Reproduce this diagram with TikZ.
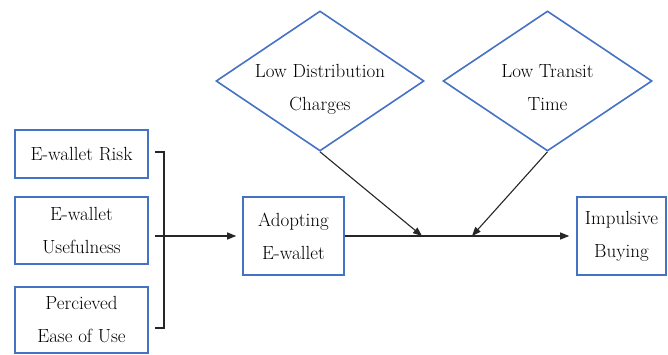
\documentclass[tikz,border=0pt]{standalone}
\usepackage{fontspec}
\usetikzlibrary{arrows.meta,shapes.geometric}
\definecolor{boxblue}{RGB}{68,114,196}
\begin{document}
\begin{tikzpicture}[x=1pt,y=-1pt,
  txt/.style={font=\fontsize{19}{33}\selectfont, align=center, inner sep=0pt},
  box/.style={draw=boxblue, line width=1.6pt, rectangle, txt},
  dia/.style={draw=boxblue, line width=1.6pt, diamond, inner sep=0pt},
  arr/.style={draw=black!85, line width=1.1pt, -{Triangle[length=9pt,width=7pt]}},
  plain/.style={draw=black!85, line width=1.1pt}]
\useasboundingbox (0,0) rectangle (668,355);
% left boxes
\node[box, minimum width=133pt, minimum height=48pt] (risk) at (81.5,154) {E-wallet Risk};
\node[box, minimum width=133pt, minimum height=67pt] (use) at (81.5,230.5) {E-wallet\\Usefulness};
\node[box, minimum width=133pt, minimum height=66pt] (ease) at (81.5,320) {Percieved\\Ease of Use};
% middle/right boxes
\node[box, minimum width=101pt, minimum height=78pt] (adopt) at (293.5,236) {Adopting\\E-wallet};
\node[box, minimum width=89pt, minimum height=78pt] (imp) at (621.5,236) {Impulsive\\Buying};
% diamonds
\node[dia, minimum width=208pt, minimum height=140pt] (d1) at (320,81) {};
\node[txt] (t1) at (320,89) {Low Distribution\\Charges};
\node[dia, minimum width=209pt, minimum height=140pt] (d2) at (547.5,81) {};
\node[txt] (t2) at (547.5,88) {Low Transit\\Time};
% bracket
\coordinate (bt) at (155,152);
\coordinate (bb) at (155,328);
\coordinate (bm) at (155,236);
\draw[plain] (bt) -- ++(9,0) -- ++(0,176) -- (bb);
\draw[arr, shorten >=6pt] (bm) -- (adopt.west);
% main line
\draw[arr, shorten >=7pt] (adopt.east) -- (imp.west);
% moderators
\coordinate (m1) at (422,236);
\coordinate (m2) at (472,236);
\draw[arr] (d1.south) -- (m1);
\draw[arr] (d2.south) -- (m2);
\end{tikzpicture}
\end{document}
